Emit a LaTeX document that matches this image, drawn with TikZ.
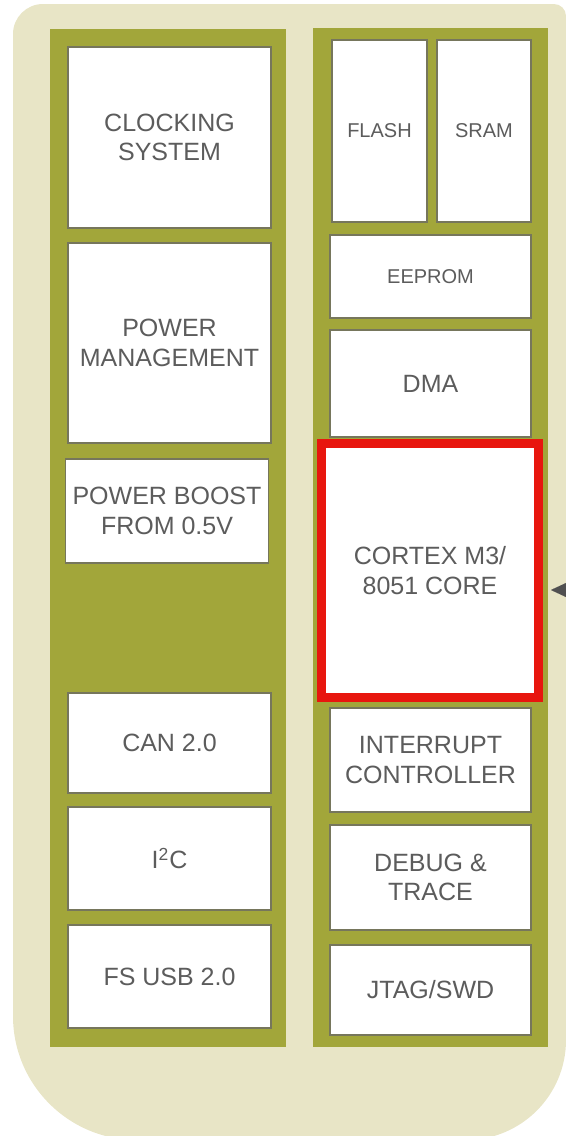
\documentclass[tikz,border=0pt]{standalone}
\usepackage{fontspec}
\setmainfont{Liberation Sans}
\usepackage{xcolor}
\usepackage{tikz}
\usetikzlibrary{arrows.meta,positioning}
\definecolor{chipBeige}{RGB}{232,229,198}
\definecolor{chipOlive}{RGB}{162,166,58}
\definecolor{chipGray}{RGB}{92,92,92}
\definecolor{chipLine}{RGB}{118,118,92}
\definecolor{chipRed}{RGB}{232,22,14}
\definecolor{chipArrow}{RGB}{80,80,80}

\tikzset{
    blk/.style={draw=chipLine, line width=0.8pt, fill=white, text=chipGray,
        align=center, inner sep=0pt, minimum width=101.5pt,
        font=\fontsize{12.5}{14.7}\selectfont},
    blksmall/.style={blk, font=\fontsize{10}{12}\selectfont},
    corebox/.style={blk, draw=chipRed, line width=4.5pt}
}

\begin{document}
\begin{tikzpicture}[x=0.5pt,y=-0.5pt]

    \useasboundingbox (0,0) rectangle (566,1136);

    % =========================
    % Background
    % =========================
    \fill[chipBeige] (13,600) [rounded corners=15pt] -- (13,4)
        [rounded corners=6pt] -- (566,4)
        [rounded corners=50pt] -- (566,1140)
        [rounded corners=62pt] -- (13,1140) -- cycle;

    % panels
    \fill[chipOlive] (50,29) rectangle (286,1047);
    \fill[chipOlive] (313,28) rectangle (548,1047);

    % =========================
    % Left column
    % =========================
    \node[blk, minimum height=90.5pt] (clk) at (169.5,137.5) {CLOCKING\\SYSTEM};
    \node[blk, minimum height=100pt] (pwr) at (169.5,343) {POWER\\MANAGEMENT};
    \node[blk, minimum height=52pt] (boost) at (167,511) {POWER BOOST\\FROM 0.5V};
    \node[blk, minimum height=50pt] (can) at (169.5,743) {CAN 2.0};
    \node[blk, minimum height=51.5pt] (iic) at (169.5,858.5) {I\textsuperscript{2}C};
    \node[blk, minimum height=51.5pt] (usb) at (169.5,976.5) {FS USB 2.0};

    % =========================
    % Right column
    % =========================
    \node[blksmall, minimum width=47.5pt, minimum height=91pt] (flash) at (379.5,131) {FLASH};
    \node[blksmall, minimum width=47pt, minimum height=91pt] (sram) at (484,131) {SRAM};
    \node[blksmall, minimum width=100.5pt, minimum height=41.5pt] (eeprom) at (430.5,276.5) {EEPROM};
    \node[blk, minimum width=100.5pt, minimum height=53.5pt] (dma) at (430.5,383.5) {DMA};
    \node[corebox, minimum width=108.5pt, minimum height=127pt] (core) at (430,570.5) {CORTEX M3/\\8051 CORE};
    \node[blk, minimum width=100.5pt, minimum height=52pt] (irq) at (430.5,760) {INTERRUPT\\CONTROLLER};
    \node[blk, minimum width=100.5pt, minimum height=52.5pt] (dbg) at (430.5,877.5) {DEBUG \&\\TRACE};
    \node[blk, minimum width=100.5pt, minimum height=45pt] (jtag) at (430.5,990) {JTAG/SWD};

    % bus arrow into the core
    \coordinate (busin) at (585,590);
    \coordinate (bustip) at (551,590);
    \draw[chipArrow, line width=0.01pt, -{Triangle[length=7.5pt,width=7pt]}] (busin) -- (bustip);

\end{tikzpicture}
\end{document}
